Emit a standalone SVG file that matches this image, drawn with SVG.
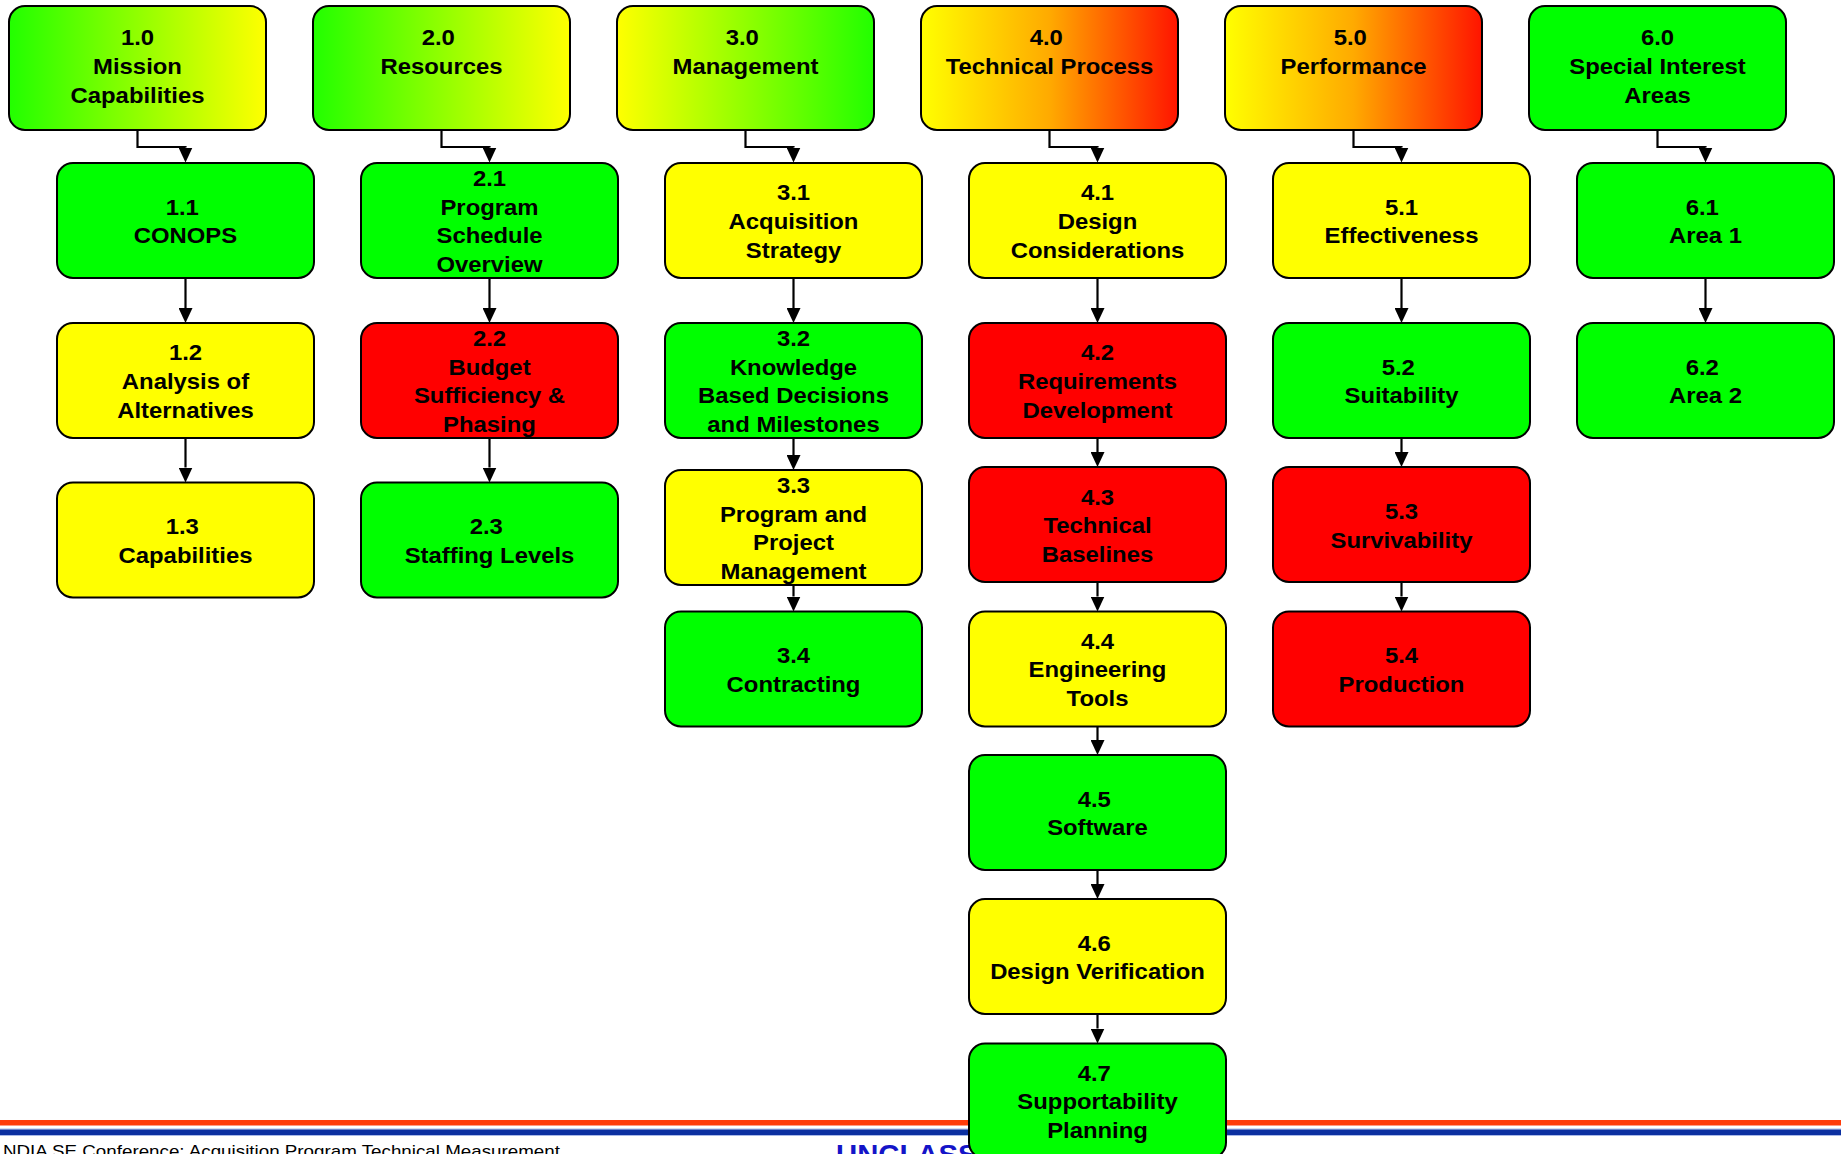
<svg xmlns="http://www.w3.org/2000/svg" width="1841" height="1154" viewBox="0 0 1841 1154">
<style>
.box{stroke:#000;stroke-width:2}
.g{fill:#00FF00}.y{fill:#FFFF00}.r{fill:#FF0000}
.t{font-family:"Liberation Sans",Arial,sans-serif;font-weight:bold;font-size:22px;text-anchor:middle;fill:#000}
.c{fill:none;stroke:#000;stroke-width:2.2}
.ft{font-family:"Liberation Sans",Arial,sans-serif;font-size:17px;fill:#000}
.uc{font-family:"Liberation Sans",Arial,sans-serif;font-weight:bold;font-size:27px;fill:#1414C8}
</style>
<defs>
<linearGradient id="gy" x1="0" y1="0" x2="1" y2="0"><stop offset="0" stop-color="#22FF00"/><stop offset="1" stop-color="#FFFF00"/></linearGradient>
<linearGradient id="yg" x1="0" y1="0" x2="1" y2="0"><stop offset="0" stop-color="#FFFF00"/><stop offset="1" stop-color="#22FF00"/></linearGradient>
<linearGradient id="yr" x1="0" y1="0" x2="1" y2="0"><stop offset="0" stop-color="#FFFF00"/><stop offset="0.5" stop-color="#FFAA00"/><stop offset="1" stop-color="#FF1400"/></linearGradient>
<marker id="ah" viewBox="0 0 15 14" refX="0" refY="7" markerWidth="15" markerHeight="14" markerUnits="userSpaceOnUse" orient="auto"><path d="M0,0 L15,7 L0,14 z" fill="#000"/></marker>
</defs>
<g id="footer">
<rect x="0" y="1120" width="1841" height="5.5" fill="#FF3B0A"/>
<rect x="0" y="1128.5" width="1841" height="1" fill="#A8B8E8"/>
<rect x="0" y="1129.5" width="1841" height="5.5" fill="#0B2FA0"/>
<rect x="0" y="1135" width="1841" height="1" fill="#A8B8E8"/>
<text class="ft" transform="translate(3 0) scale(1.105 1)" x="0" y="1157">NDIA SE Conference: Acquisition Program Technical Measurement</text>
<text class="uc" transform="translate(836 0) scale(1.085 1)" x="0" y="1164">UNCLASSIFIED</text>
</g>
<g id="nodes">
<g id="n1_0"><rect class="box" x="9" y="6" width="257" height="124" rx="16" fill="url(#gy)"/><text class="t" transform="translate(137.5 0) scale(1.085 1)"><tspan x="0" y="45">1.0</tspan><tspan x="0" y="73.8">Mission</tspan><tspan x="0" y="102.6">Capabilities</tspan></text></g>
<g id="n2_0"><rect class="box" x="313" y="6" width="257" height="124" rx="16" fill="url(#gy)"/><text class="t" transform="translate(441.5 0) scale(1.085 1)"><tspan x="-3" y="45">2.0</tspan><tspan x="0" y="73.8">Resources</tspan></text></g>
<g id="n3_0"><rect class="box" x="617" y="6" width="257" height="124" rx="16" fill="url(#yg)"/><text class="t" transform="translate(745.5 0) scale(1.085 1)"><tspan x="-3" y="45">3.0</tspan><tspan x="0" y="73.8">Management</tspan></text></g>
<g id="n4_0"><rect class="box" x="921" y="6" width="257" height="124" rx="16" fill="url(#yr)"/><text class="t" transform="translate(1049.5 0) scale(1.085 1)"><tspan x="-3" y="45">4.0</tspan><tspan x="0" y="73.8">Technical Process</tspan></text></g>
<g id="n5_0"><rect class="box" x="1225" y="6" width="257" height="124" rx="16" fill="url(#yr)"/><text class="t" transform="translate(1353.5 0) scale(1.085 1)"><tspan x="-3" y="45">5.0</tspan><tspan x="0" y="73.8">Performance</tspan></text></g>
<g id="n6_0"><rect class="box g" x="1529" y="6" width="257" height="124" rx="16"/><text class="t" transform="translate(1657.5 0) scale(1.085 1)"><tspan x="0" y="45">6.0</tspan><tspan x="0" y="73.8">Special Interest</tspan><tspan x="0" y="102.6">Areas</tspan></text></g>

<g id="n1_1"><rect class="box g" x="57" y="163" width="257" height="115" rx="16"/><text class="t" transform="translate(185.5 0) scale(1.085 1)"><tspan x="-3" y="214.6">1.1</tspan><tspan x="0" y="243.4">CONOPS</tspan></text></g>
<g id="n1_2"><rect class="box y" x="57" y="323" width="257" height="115" rx="16"/><text class="t" transform="translate(185.5 0) scale(1.085 1)"><tspan x="0" y="360.2">1.2</tspan><tspan x="0" y="389">Analysis of</tspan><tspan x="0" y="417.8">Alternatives</tspan></text></g>
<g id="n1_3"><rect class="box y" x="57" y="482.5" width="257" height="115" rx="16"/><text class="t" transform="translate(185.5 0) scale(1.085 1)"><tspan x="-3" y="534.1">1.3</tspan><tspan x="0" y="562.9">Capabilities</tspan></text></g>

<g id="n2_1"><rect class="box g" x="361" y="163" width="257" height="115" rx="16"/><text class="t" transform="translate(489.5 0) scale(1.085 1)"><tspan x="0" y="185.8">2.1</tspan><tspan x="0" y="214.6">Program</tspan><tspan x="0" y="243.4">Schedule</tspan><tspan x="0" y="272.2">Overview</tspan></text></g>
<g id="n2_2"><rect class="box r" x="361" y="323" width="257" height="115" rx="16"/><text class="t" transform="translate(489.5 0) scale(1.085 1)"><tspan x="0" y="345.8">2.2</tspan><tspan x="0" y="374.6">Budget</tspan><tspan x="0" y="403.4">Sufficiency &amp;</tspan><tspan x="0" y="432.2">Phasing</tspan></text></g>
<g id="n2_3"><rect class="box g" x="361" y="482.5" width="257" height="115" rx="16"/><text class="t" transform="translate(489.5 0) scale(1.085 1)"><tspan x="-3" y="534.1">2.3</tspan><tspan x="0" y="562.9">Staffing Levels</tspan></text></g>

<g id="n3_1"><rect class="box y" x="665" y="163" width="257" height="115" rx="16"/><text class="t" transform="translate(793.5 0) scale(1.085 1)"><tspan x="0" y="200.2">3.1</tspan><tspan x="0" y="229">Acquisition</tspan><tspan x="0" y="257.8">Strategy</tspan></text></g>
<g id="n3_2"><rect class="box g" x="665" y="323" width="257" height="115" rx="16"/><text class="t" transform="translate(793.5 0) scale(1.085 1)"><tspan x="0" y="345.8">3.2</tspan><tspan x="0" y="374.6">Knowledge</tspan><tspan x="0" y="403.4">Based Decisions</tspan><tspan x="0" y="432.2">and Milestones</tspan></text></g>
<g id="n3_3"><rect class="box y" x="665" y="470" width="257" height="115" rx="16"/><text class="t" transform="translate(793.5 0) scale(1.085 1)"><tspan x="0" y="492.8">3.3</tspan><tspan x="0" y="521.6">Program and</tspan><tspan x="0" y="550.4">Project</tspan><tspan x="0" y="579.2">Management</tspan></text></g>
<g id="n3_4"><rect class="box g" x="665" y="611.5" width="257" height="115" rx="16"/><text class="t" transform="translate(793.5 0) scale(1.085 1)"><tspan x="0" y="663.1">3.4</tspan><tspan x="0" y="691.9">Contracting</tspan></text></g>

<g id="n4_1"><rect class="box y" x="969" y="163" width="257" height="115" rx="16"/><text class="t" transform="translate(1097.5 0) scale(1.085 1)"><tspan x="0" y="200.2">4.1</tspan><tspan x="0" y="229">Design</tspan><tspan x="0" y="257.8">Considerations</tspan></text></g>
<g id="n4_2"><rect class="box r" x="969" y="323" width="257" height="115" rx="16"/><text class="t" transform="translate(1097.5 0) scale(1.085 1)"><tspan x="0" y="360.2">4.2</tspan><tspan x="0" y="389">Requirements</tspan><tspan x="0" y="417.8">Development</tspan></text></g>
<g id="n4_3"><rect class="box r" x="969" y="467" width="257" height="115" rx="16"/><text class="t" transform="translate(1097.5 0) scale(1.085 1)"><tspan x="0" y="504.6">4.3</tspan><tspan x="0" y="533.4">Technical</tspan><tspan x="0" y="562.2">Baselines</tspan></text></g>
<g id="n4_4"><rect class="box y" x="969" y="611.5" width="257" height="115" rx="16"/><text class="t" transform="translate(1097.5 0) scale(1.085 1)"><tspan x="0" y="648.7">4.4</tspan><tspan x="0" y="677.5">Engineering</tspan><tspan x="0" y="706.3">Tools</tspan></text></g>
<g id="n4_5"><rect class="box g" x="969" y="755" width="257" height="115" rx="16"/><text class="t" transform="translate(1097.5 0) scale(1.085 1)"><tspan x="-3" y="806.6">4.5</tspan><tspan x="0" y="835.4">Software</tspan></text></g>
<g id="n4_6"><rect class="box y" x="969" y="899" width="257" height="115" rx="16"/><text class="t" transform="translate(1097.5 0) scale(1.085 1)"><tspan x="-3" y="950.6">4.6</tspan><tspan x="0" y="979.4">Design Verification</tspan></text></g>
<g id="n4_7"><rect class="box g" x="969" y="1043.5" width="257" height="115" rx="16"/><text class="t" transform="translate(1097.5 0) scale(1.085 1)"><tspan x="-3" y="1080.7">4.7</tspan><tspan x="0" y="1109.5">Supportability</tspan><tspan x="0" y="1138.3">Planning</tspan></text></g>

<g id="n5_1"><rect class="box y" x="1273" y="163" width="257" height="115" rx="16"/><text class="t" transform="translate(1401.5 0) scale(1.085 1)"><tspan x="0" y="214.6">5.1</tspan><tspan x="0" y="243.4">Effectiveness</tspan></text></g>
<g id="n5_2"><rect class="box g" x="1273" y="323" width="257" height="115" rx="16"/><text class="t" transform="translate(1401.5 0) scale(1.085 1)"><tspan x="-3" y="374.6">5.2</tspan><tspan x="0" y="403.4">Suitability</tspan></text></g>
<g id="n5_3"><rect class="box r" x="1273" y="467" width="257" height="115" rx="16"/><text class="t" transform="translate(1401.5 0) scale(1.085 1)"><tspan x="0" y="519.1">5.3</tspan><tspan x="0" y="547.9">Survivability</tspan></text></g>
<g id="n5_4"><rect class="box r" x="1273" y="611.5" width="257" height="115" rx="16"/><text class="t" transform="translate(1401.5 0) scale(1.085 1)"><tspan x="0" y="663.1">5.4</tspan><tspan x="0" y="691.9">Production</tspan></text></g>

<g id="n6_1"><rect class="box g" x="1577" y="163" width="257" height="115" rx="16"/><text class="t" transform="translate(1705.5 0) scale(1.085 1)"><tspan x="-3" y="214.6">6.1</tspan><tspan x="0" y="243.4">Area 1</tspan></text></g>
<g id="n6_2"><rect class="box g" x="1577" y="323" width="257" height="115" rx="16"/><text class="t" transform="translate(1705.5 0) scale(1.085 1)"><tspan x="-3" y="374.6">6.2</tspan><tspan x="0" y="403.4">Area 2</tspan></text></g>
</g>
<g id="connectors">
<path class="c" d="M137.5,130 V147 H185.5 V147.5" marker-end="url(#ah)"/>
<path class="c" d="M441.5,130 V147 H489.5 V147.5" marker-end="url(#ah)"/>
<path class="c" d="M745.5,130 V147 H793.5 V147.5" marker-end="url(#ah)"/>
<path class="c" d="M1049.5,130 V147 H1097.5 V147.5" marker-end="url(#ah)"/>
<path class="c" d="M1353.5,130 V147 H1401.5 V147.5" marker-end="url(#ah)"/>
<path class="c" d="M1657.5,130 V147 H1705.5 V147.5" marker-end="url(#ah)"/>

<path class="c" d="M185.5,278 V308" marker-end="url(#ah)"/>
<path class="c" d="M185.5,438 V467.5" marker-end="url(#ah)"/>
<path class="c" d="M489.5,278 V308" marker-end="url(#ah)"/>
<path class="c" d="M489.5,438 V467.5" marker-end="url(#ah)"/>
<path class="c" d="M793.5,278 V308" marker-end="url(#ah)"/>
<path class="c" d="M793.5,438 V455" marker-end="url(#ah)"/>
<path class="c" d="M793.5,585 V596.5" marker-end="url(#ah)"/>
<path class="c" d="M1097.5,278 V308" marker-end="url(#ah)"/>
<path class="c" d="M1097.5,438 V452" marker-end="url(#ah)"/>
<path class="c" d="M1097.5,582 V596.5" marker-end="url(#ah)"/>
<path class="c" d="M1097.5,726.5 V740" marker-end="url(#ah)"/>
<path class="c" d="M1097.5,870 V884" marker-end="url(#ah)"/>
<path class="c" d="M1097.5,1014 V1028.5" marker-end="url(#ah)"/>
<path class="c" d="M1401.5,278 V308" marker-end="url(#ah)"/>
<path class="c" d="M1401.5,438 V452" marker-end="url(#ah)"/>
<path class="c" d="M1401.5,582 V596.5" marker-end="url(#ah)"/>
<path class="c" d="M1705.5,278 V308" marker-end="url(#ah)"/>
</g>
</svg>
